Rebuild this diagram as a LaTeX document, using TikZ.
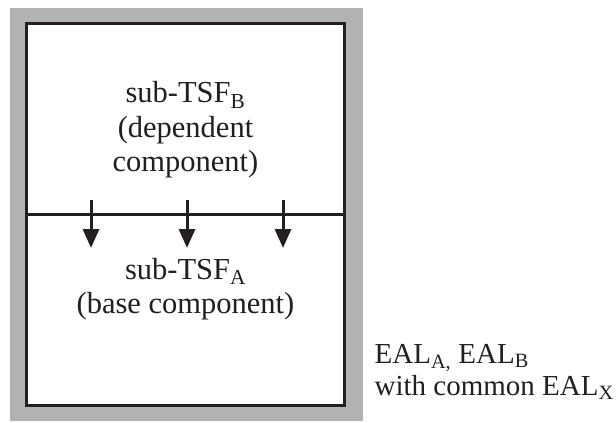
\documentclass[tikz,border=0pt]{standalone}
\usepackage{fontspec}
\setmainfont{Liberation Serif}
\usepackage{tikz}
\usetikzlibrary{arrows.meta,positioning}
\definecolor{framegray}{RGB}{178,178,180}
\definecolor{inkblack}{RGB}{35,31,32}

\begin{document}
\begin{tikzpicture}[x=1pt,y=-1pt,>={Triangle[length=19pt,width=16pt]},semithick]
\tikzstyle{every node}=[text=inkblack,font=\fontsize{30.5}{34.5}\selectfont]
\tikzstyle{frame}=[fill=framegray,minimum width=353pt,minimum height=413pt,inner sep=0pt]
\tikzstyle{tsf}=[draw=inkblack,fill=white,line width=3pt,minimum width=318pt,minimum height=382pt,inner sep=0pt]
\tikzstyle{part}=[align=center]
\tikzstyle{flow}=[->,draw=inkblack,line width=3pt]

\useasboundingbox (0,0) rectangle (616,423);

\node[frame] (F) at (186.5,214.5) {};
\node[tsf]   (T) at (185.5,214.5) {};
\draw[draw=inkblack,line width=3pt] (T.west) -- (T.east);

\node[part] (B) at (185.5,130) {sub-TSF\textsubscript{B}\\(dependent\\component)};
\node[part] (A) at (185.5,289) {sub-TSF\textsubscript{A}\\(base component)};
\node[align=left,anchor=west,font=\fontsize{29}{32}\selectfont] (E) at (371,372) {EAL\textsubscript{A,} EAL\textsubscript{B}\\with common EAL\textsubscript{X}};

% calls from B into A
\foreach \x/\n in {91/1,187/2,283/3} {
  \coordinate (s\n) at (\x,200);
  \coordinate (e\n) at (\x,248);
  \draw[flow] (s\n) -- (e\n);
}
\end{tikzpicture}
\end{document}
